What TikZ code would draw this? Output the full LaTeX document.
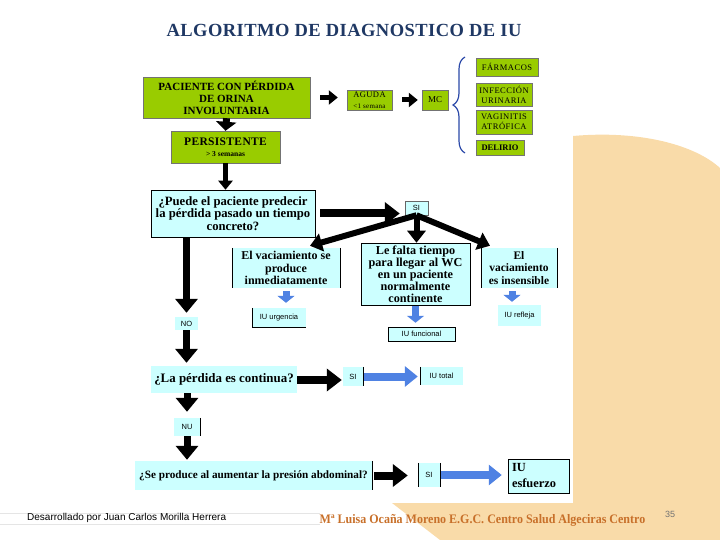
\documentclass[tikz,border=0pt]{standalone}
\usepackage{fontspec}
\setmainfont{Liberation Serif}
\setsansfont{Liberation Sans}
\usetikzlibrary{arrows.meta,calc,decorations.pathreplacing}
\definecolor{grn}{HTML}{99CC00}
\definecolor{cyn}{HTML}{CCFFFF}
\definecolor{bluar}{HTML}{4F82E3}
\definecolor{bracec}{HTML}{2A48A8}
\definecolor{peach}{HTML}{F9DBA9}
\definecolor{titlec}{HTML}{1F3864}
\definecolor{orng}{HTML}{C8702A}
\begin{document}
\begin{tikzpicture}[x=1pt,y=-1pt,
  gbox/.style={draw=black!55, line width=0.4pt, fill=grn, align=center, inner sep=0pt},
  cbox/.style={fill=cyn, align=center, inner sep=0pt},
  fbox/.style={draw=black, line width=0.5pt, fill=cyn, align=center, inner sep=0pt},
  qfont/.style={font=\fontsize{12.7}{12.6}\selectfont\bfseries},
  lbl/.style={font=\sffamily\fontsize{7.5}{8.5}\selectfont},
  gfont/.style={font=\fontsize{8.5}{10}\selectfont\addfontfeature{LetterSpace=6}},
  edgeline/.style={draw=black, line width=0.5pt},
  bigarrow/.style={line width=8pt, -{Triangle[length=15pt,width=22pt]}},
  midarrow/.style={line width=6pt, -{Triangle[length=12pt,width=18pt]}},
  smallarrow/.style={line width=5pt, -{Triangle[length=9pt,width=14pt]}},
  bluearrow/.style={draw=bluar, line width=8pt, -{Triangle[length=13pt,width=20pt]}},
  bluedown/.style={draw=bluar, line width=7pt, -{Triangle[length=7pt,width=17pt]}},
  bracedec/.style={draw=bracec, line width=1.2pt, decorate, decoration={brace, amplitude=12pt}}
]
\useasboundingbox (0,0) rectangle (720,540);
% background
\fill[peach] (573,136) .. controls (640,130) and (695,145) .. (720,168) -- (720,540) -- (440,540) -- (392,503) -- (573,503) -- cycle;
\draw[black!10, line width=0.6pt] (0,513) -- (320,513);
\draw[black!10, line width=0.6pt] (0,524) -- (320,524);

% title and footer
\node[font=\fontsize{18.5}{20}\selectfont\bfseries\addfontfeature{LetterSpace=2.5}, text=titlec] (title) at (344,30) {ALGORITMO DE DIAGNOSTICO DE IU};
\node[font=\sffamily\fontsize{10}{11}\selectfont, anchor=west, inner sep=0pt] (dev) at (27,518) {Desarrollado por Juan Carlos Morilla Herrera};
\node[font=\fontsize{13}{14}\selectfont\bfseries, text=orng, inner sep=0pt] (aut) at (482.5,520) {\scalebox{0.924}[1]{Mª Luisa Ocaña Moreno E.G.C. Centro Salud Algeciras Centro}};
\node[font=\sffamily\fontsize{9}{10}\selectfont, text=black!55, inner sep=0pt] (pg) at (670,514) {35};

% green boxes
\node[gbox, minimum width=167pt, minimum height=41pt, font=\fontsize{11}{12}\selectfont\bfseries] (pac) at (226.5,97.5) {PACIENTE CON PÉRDIDA\\DE ORINA\\INVOLUNTARIA};
\node[gbox, minimum width=109pt, minimum height=32pt] (per) at (225.5,147) {{\fontsize{11.5}{12}\selectfont\bfseries\addfontfeature{LetterSpace=3} PERSISTENTE}\\[-1pt]{\fontsize{7.5}{8}\selectfont\bfseries > 3 semanas}};
\node[gbox, minimum width=45pt, minimum height=20pt] (agu) at (369.5,100) {{\fontsize{8.5}{8}\selectfont\addfontfeature{LetterSpace=5} AGUDA}\\[-1.5pt]{\fontsize{7}{6}\selectfont\addfontfeature{LetterSpace=4} <1 semana}};
\node[gbox, minimum width=26pt, minimum height=20pt, font=\fontsize{9}{9}\selectfont] (mc) at (435,100) {MC};
\node[gbox, minimum width=62pt, minimum height=18pt, gfont] (far) at (507,67) {FÁRMACOS};
\node[gbox, minimum width=56pt, minimum height=23pt, gfont] (inf) at (504,94.5) {INFECCIÓN\\URINARIA};
\node[gbox, minimum width=56pt, minimum height=24pt, gfont] (vag) at (504,122) {VAGINITIS\\ATRÓFICA};
\node[gbox, minimum width=48pt, minimum height=15pt, font=\fontsize{8.5}{9}\selectfont\bfseries] (del) at (500,147.5) {DELIRIO};
\draw[bracedec] (465,153) -- (465,57);

% cyan boxes
\node[fbox, minimum width=164pt, minimum height=47pt, qfont] (q1) at (233,213.5) {¿Puede el paciente predecir\\la pérdida pasado un tiempo\\concreto?};
\node[fbox, draw=black!60, minimum width=23pt, minimum height=14pt, lbl] (si1) at (416.5,208) {SI};
\node[cbox, minimum width=108pt, minimum height=40pt, font=\fontsize{12}{12.8}\selectfont\bfseries] (boxA) at (286,268) {El vaciamiento se\\produce\\inmediatamente};
\node[fbox, minimum width=109pt, minimum height=62pt, font=\fontsize{12.2}{12}\selectfont\bfseries] (boxB) at (415.5,274) {Le falta tiempo\\para llegar al WC\\en un paciente\\normalmente\\continente};
\node[cbox, minimum width=76pt, minimum height=40pt, font=\fontsize{11.5}{12.8}\selectfont\bfseries] (boxC) at (519,268) {El\\vaciamiento\\es insensible};
\node[cbox, minimum width=54pt, minimum height=19pt, lbl] (urg) at (279,317.5) {IU urgencia};
\node[fbox, minimum width=67pt, minimum height=14pt, lbl] (fun) at (421.5,334) {IU funcional};
\node[cbox, minimum width=43pt, minimum height=21pt, lbl] (ref) at (519.5,315.5) {IU refleja};
\node[cbox, minimum width=23pt, minimum height=13pt, lbl] (no) at (186.5,323.5) {NO};
\node[cbox, minimum width=146pt, minimum height=27pt, font=\fontsize{12.9}{14}\selectfont\bfseries] (q2) at (224,379.5) {¿La pérdida es continua?};
\node[cbox, minimum width=20pt, minimum height=19pt, lbl] (si2) at (353,376.5) {SI};
\node[cbox, minimum width=43pt, minimum height=18pt, lbl] (tot) at (441.5,376) {IU total};
\node[cbox, minimum width=26pt, minimum height=18pt, lbl] (nu) at (187,427) {NU};
\node[cbox, minimum width=237pt, minimum height=29pt, font=\fontsize{11.2}{12}\selectfont\bfseries] (q3) at (253.5,475.5) {¿Se produce al aumentar la presión abdominal?};
\node[cbox, minimum width=22pt, minimum height=24pt, lbl] (si3) at (429,475) {SI};
\node[fbox, minimum width=61pt, minimum height=34pt, inner xsep=4pt, text width=53pt, align=left, font=\fontsize{12.4}{16}\selectfont\bfseries] (esf) at (538.5,476) {IU\\esfuerzo};

% partial borders
\draw[edgeline] (boxA.north west) -- (boxA.south west);
\draw[edgeline] (boxA.north east) -- (boxA.south east);
\draw[edgeline] (boxC.north west) -- (boxC.south west);
\draw[edgeline] (boxC.north east) -- (boxC.south east);
\draw[edgeline] (urg.north west) -- (urg.south west) -- (urg.south east);
\draw[edgeline] (si2.north east) -- (si2.south east);
\draw[edgeline] (tot.north west) -- (tot.south west);
\draw[edgeline] (nu.north east) -- (nu.south east);
\draw[edgeline] (q3.north east) -- (q3.south east);
\draw[edgeline] (si3.north west) -- (si3.south west);
\draw[edgeline] (si3.north east) -- (si3.south east);

% helper coordinates
\coordinate (cdown) at ($(boxC.south)+(-7,0)$);
\coordinate (aend) at ($(boxA.north)+(24,-2)$);
\coordinate (cend) at ($(boxC.north)+(-29,-2)$);
\coordinate (y2) at (0,380);

% black arrows
\draw[smallarrow, line width=7pt, -{Triangle[length=9pt,width=20pt]}] (pac.south) -- (per.north);
\draw[smallarrow, line width=5pt] (per.south) -- (per.south |- q1.north);
\draw[smallarrow, shorten <=10pt, shorten >=9pt] (pac.east) -- (pac.east -| agu.west);
\draw[smallarrow, shorten <=10pt, shorten >=4pt] (agu.east) -- (mc.west);
\draw[bigarrow, shorten <=5pt, shorten >=5pt] (q1.east) -- (q1.east -| si1.west);
\draw[midarrow] (si1.south) -- (aend);
\draw[midarrow] (si1.south) -- (si1.south |- boxB.north);
\draw[midarrow] (si1.south) -- (cend);
\draw[bigarrow, line width=7pt, -{Triangle[length=14pt,width=22pt]}, shorten >=4pt] (q1.south -| no.north) -- (no.north);
\draw[bigarrow, line width=7pt, -{Triangle[length=14pt,width=22pt]}, shorten >=3pt] (no.south) -- (no.south |- q2.north);
\draw[bigarrow, shorten >=1pt] (q2.east |- y2) -- (si2.west |- y2);
\draw[bigarrow, line width=7pt, -{Triangle[length=14pt,width=22pt]}, shorten >=6pt] (q2.south -| nu.north) -- (nu.north);
\draw[bigarrow, line width=7pt, -{Triangle[length=14pt,width=22pt]}, shorten >=1pt] (nu.south) -- (nu.south |- q3.north);
\draw[bigarrow, shorten <=2pt, shorten >=10pt] (q3.east) -- (q3.east -| si3.west);

% blue arrows
\draw[bluedown, shorten <=3pt, shorten >=5pt] (boxA.south) -- (boxA.south |- urg.north);
\draw[bluedown, shorten <=1pt, shorten >=4pt] (boxB.south) -- (boxB.south |- fun.north);
\draw[bluedown, shorten <=3pt, shorten >=3pt] (cdown) -- (cdown |- ref.north);
\draw[bluearrow, shorten <=1pt, shorten >=2pt] (si2.east) -- (si2.east -| tot.west);
\draw[bluearrow, shorten <=1pt, shorten >=6pt] (si3.east) -- (si3.east -| esf.west);
\end{tikzpicture}
\end{document}
